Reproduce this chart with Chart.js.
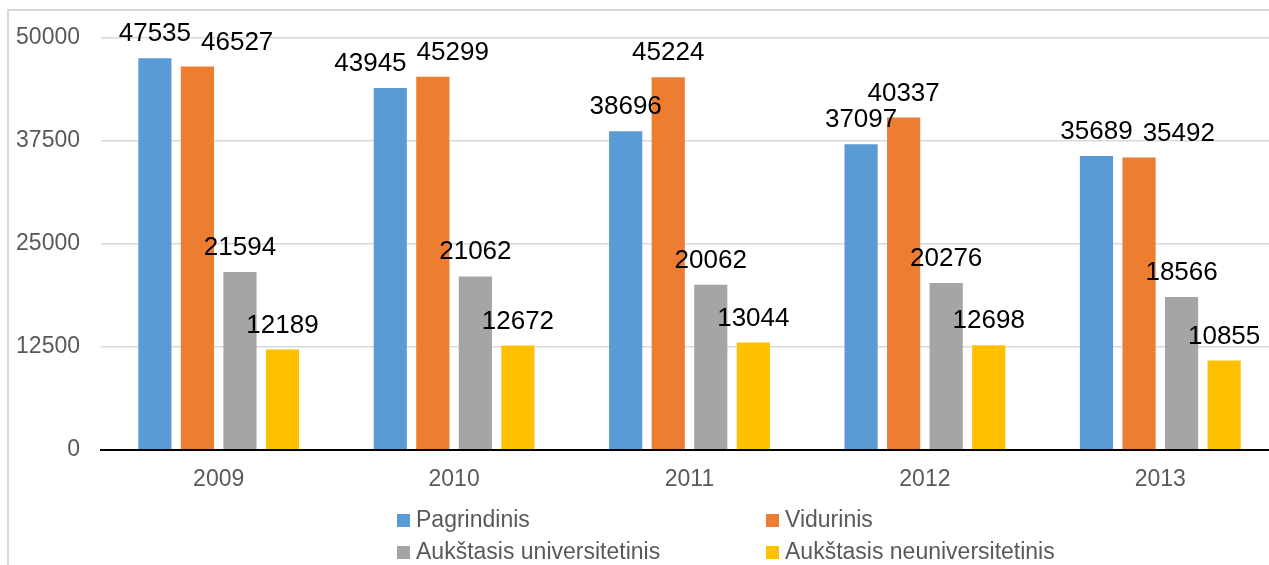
<!DOCTYPE html>
<html>
<head>
<meta charset="utf-8">
<script src="https://cdn.jsdelivr.net/npm/chart.js@4"></script>
<style>
    html, body { margin: 0; padding: 0; overflow: hidden; background: #fff; }
    body { width: 1269px; height: 565px; position: relative; }
    #frame { position: absolute; left: 7px; top: 9px; width: 1400px; height: 700px;
             border-left: 2px solid #d9d9d9; border-top: 2px solid #d9d9d9; }
    #wrap { position: absolute; left: 0; top: 0; width: 1278px; height: 565px; }
    .leg { position: absolute; font: 23px "Liberation Sans", Arial, sans-serif; color: #595959;
           white-space: nowrap; line-height: 26px; }
    .leg i { display: inline-block; width: 13px; height: 13px; margin-right: 6px; vertical-align: 0px; }
</style>
</head>
<body>
<div id="frame"></div>
<div id="wrap"><canvas id="chart" width="1278" height="565"></canvas></div>
<div id="legend"></div>
<script>
const years = ["2009", "2010", "2011", "2012", "2013"];
const seriesNames = ["Pagrindinis", "Vidurinis", "Aukštasis universitetinis", "Aukštasis neuniversitetinis"];
const pagrindinis = [47535, 43945, 38696, 37097, 35689];
const vidurinis = [46527, 45299, 45224, 40337, 35492];
const universitetinis = [21594, 21062, 20062, 20276, 18566];
const neuniversitetinis = [12189, 12672, 13044, 12698, 10855];
const yTicks = [0, 12500, 25000, 37500, 50000];
const colors = ["#5B9BD5", "#ED7D31", "#A5A5A5", "#FFC000"];

const allSeries = [pagrindinis, vidurinis, universitetinis, neuniversitetinis];

// value labels above bars; colliding labels get moved apart
const valueLabels = {
    id: "valueLabels",
    afterDatasetsDraw(chart) {
        const ctx = chart.ctx;
        ctx.save();
        ctx.font = "26px 'Liberation Sans', Arial, sans-serif";
        ctx.fillStyle = "#000";
        ctx.textBaseline = "alphabetic";
        ctx.textAlign = "left";
        const gap = 10;
        for (let i = 0; i < years.length; i++) {
            const boxes = [];
            chart.data.datasets.forEach((ds, d) => {
                const bar = chart.getDatasetMeta(d).data[i];
                const txt = String(ds.data[i]);
                const w = ctx.measureText(txt).width;
                boxes.push({txt: txt, left: bar.x - w / 2, w: w, y: bar.y - 17});
            });
            for (let j = 1; j < boxes.length; j++) {
                const b = boxes[j], p = boxes[j - 1];
                const overlap = p.left + p.w + gap - b.left;
                if (Math.abs(p.y - b.y) < 20 && overlap > 0) {
                    if (b.y < p.y) { p.left -= overlap / 2; b.left += overlap / 2; }
                    else { b.left += overlap; }
                }
            }
            boxes.forEach(b => ctx.fillText(b.txt, b.left, b.y));
        }
        ctx.restore();
    }
};

const ctx = document.getElementById("chart").getContext("2d");
new Chart(ctx, {
    type: "bar",
    data: {
        labels: years,
        datasets: seriesNames.map((name, k) => ({
            label: name,
            data: allSeries[k],
            backgroundColor: colors[k],
            categoryPercentage: 0.723,
            barPercentage: 0.78
        }))
    },
    options: {
        responsive: false,
        animation: false,
        layout: {padding: {top: 38, left: 0, right: 0, bottom: 0}},
        plugins: {legend: {display: false}, tooltip: {enabled: false}},
        scales: {
            x: {
                grid: {display: false, drawTicks: false},
                border: {color: "#000", width: 2},
                ticks: {color: "#595959", font: {size: 23, family: "'Liberation Sans', Arial"}, padding: 16},
                afterFit: s => { s.height = 115; }
            },
            y: {
                min: 0, max: 50000,
                afterBuildTicks: s => { s.ticks = yTicks.map(v => ({value: v})); },
                grid: {
                    drawTicks: false,
                    color: c => c.tick.value === 0 ? "#000" : "#d9d9d9",
                    lineWidth: c => c.tick.value === 0 ? 2 : 1.5
                },
                border: {display: false},
                ticks: {
                    color: "#595959", font: {size: 23, family: "'Liberation Sans', Arial"}, padding: 21,
                    callback: v => String(v)
                },
                afterFit: s => { s.width = 101; }
            }
        }
    },
    plugins: [valueLabels]
});

// two-column legend under the chart
const legend = document.getElementById("legend");
const legPos = [[397, 506], [766, 506], [397, 538], [766, 538]];
seriesNames.forEach((name, k) => {
    const el = document.createElement("div");
    el.className = "leg";
    el.style.left = legPos[k][0] + "px";
    el.style.top = legPos[k][1] + "px";
    el.innerHTML = `<i style="background:${colors[k]}"></i>${name}`;
    legend.appendChild(el);
});
</script>
</body>
</html>
